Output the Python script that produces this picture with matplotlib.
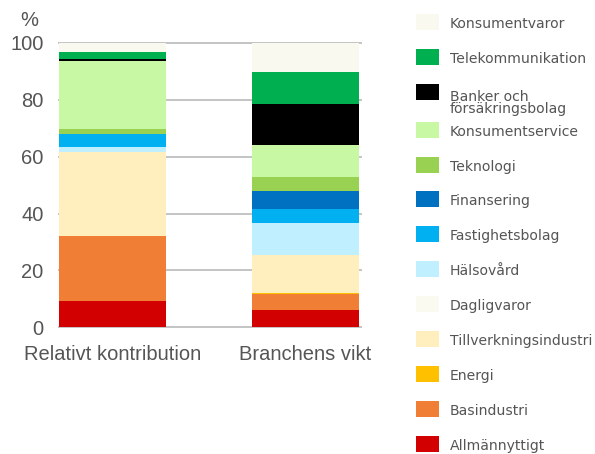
import matplotlib
matplotlib.use("Agg")
import matplotlib.pyplot as plt
from matplotlib.patches import Rectangle

# Sector shares (%), listed from the bottom of the stack upwards
sectors = ["Allmännyttigt", "Basindustri", "Energi", "Tillverkningsindustri",
           "Dagligvaror", "Hälsovård", "Fastighetsbolag", "Finansering",
           "Teknologi", "Konsumentservice", "Banker och\nförsäkringsbolag",
           "Telekommunikation", "Konsumentvaror"]
colors = ["#d20000", "#f07e34", "#ffc000", "#ffeebe",
          "#fafaf0", "#c0f0ff", "#00b0f0", "#0070c0",
          "#99d152", "#c9f8a4", "#000000",
          "#00b050", "#faf9f0"]
categories = ["Relativt kontribution", "Branchens vikt"]
relativt_kontribution = [9.3, 22.8, 0.0, 29.7, 0.0, 1.7, 4.6, 0.0, 1.5, 23.9, 1.0, 2.4, 3.1]
branchens_vikt = [6.1, 5.5, 0.4, 13.5, 0.0, 11.2, 5.0, 6.3, 4.9, 11.3, 14.4, 11.3, 10.1]
yticks = [0, 20, 40, 60, 80, 100]

W, H = 595, 454
fig = plt.figure(figsize=(W / 100, H / 100), dpi=100)
ax = fig.add_axes([59 / W, (H - 327.3) / H, 302 / W, 284.3 / H])

bar_w = 0.554
x = [0, 1]
bottoms = [0.0, 0.0]
for i, name in enumerate(sectors):
    vals = [relativt_kontribution[i], branchens_vikt[i]]
    ax.bar(x, vals, bar_w, bottom=bottoms, color=colors[i], linewidth=0, zorder=3)
    bottoms = [b + v for b, v in zip(bottoms, vals)]

ax.set_xlim(-bar_w / 2, 1.288)
ax.set_ylim(0, 100)
ax.set_yticks(yticks)
ax.set_yticklabels([str(t) for t in yticks])
ax.set_xticks(x)
ax.set_xticklabels(categories)
for t in yticks:
    ax.axhline(t, color="#c4c4c4", lw=1.4, zorder=1, clip_on=False)
for s in ax.spines.values():
    s.set_visible(False)
ax.tick_params(axis="both", length=0, labelsize=14.5, labelcolor="#555555")
ax.tick_params(axis="y", pad=11)
ax.tick_params(axis="x", pad=13)
for lab in ax.get_xticklabels() + ax.get_yticklabels():
    lab.set_fontfamily("Liberation Sans")
ax.set_facecolor("none")

fig.text(20 / W, 1 - 20 / H, "%", fontsize=14.5, color="#555555",
         family="Liberation Sans", va="center", ha="left")

# Legend column: top entry is the top of the stack
centers = [22, 57, 92, 130, 165, 199, 234, 269, 304, 339, 374, 409, 444]
for name, col, cy in zip(sectors[::-1], colors[::-1], centers):
    fig.add_artist(Rectangle((416 / W, 1 - (cy + 8) / H), 23 / W, 16 / H,
                             transform=fig.transFigure, facecolor=col,
                             edgecolor="none"))
    ty = cy + 11 if "\n" in name else cy + 2
    fig.text(450 / W, 1 - ty / H, name, fontsize=10.1, color="#555555",
             family="DejaVu Sans", va="center", ha="left", linespacing=0.9)

fig.savefig("out.png", dpi=100)
